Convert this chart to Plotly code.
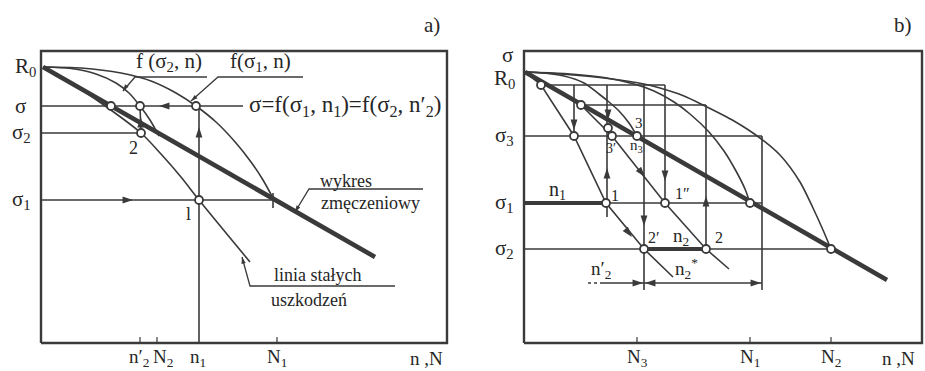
import math
import plotly.graph_objects as go

INK = "#3a3a3a"
TXT = "#262626"
FONT = "Liberation Serif"

# ---------------- a) ----------------
# stress levels and cycle counts (diagram units)
A_R0, A_SIG, A_SIG2, A_SIG1 = 276, 237, 210, 143
A_N2P, A_N2, A_N1S, A_N1 = 99, 116, 158, 233
A_W, A_H = 406, 292

# fatigue curve (wykres zmęczeniowy)
A_FAT_X = [2, 334]
A_FAT_Y = [276, 86]
# f(σ1, n)
A_F1_X = [2, 40, 80, 110, 135, 155, 175, 195, 210, 222, 233]
A_F1_Y = [276, 275, 270, 262, 250, 237, 221, 200, 181, 163, 143]
# f(σ2, n)
A_F2_X = [2, 30, 55, 75, 88, 99, 109, 118]
A_F2_Y = [276, 274.5, 269, 260, 250, 237, 223, 207]
# linia stałych uszkodzeń
A_CD_X = [2, 30, 60, 100, 120, 140, 158, 209]
A_CD_Y = [276, 260, 240, 210, 189, 166, 143, 81]
# marked points
A_PTS_X = [70, 99, 155, 100, 158]
A_PTS_Y = [237, 237, 237, 210, 143]
# arrow heads: tip x, tip y, direction x, direction y
A_ARR = [(118, 237, -1, 0), (92, 143, 1, 0), (158, 216, 0, 1),
         (99.7, 226, 0, 1)]
A_LEAD_ARR = [(82, 252, -0.7, -1), (150, 242, -1, -0.85),
              (254, 131, -0.6, -1), (201, 86, -0.25, 1)]

# ---------------- b) ----------------
B_R0, B_L1, B_L2, B_SIG3, B_SIG1, B_SIG2 = 271, 258, 238, 207, 140, 94
B_N3, B_N1, B_N2 = 113, 226, 307
B_N2P, B_2 = 120, 182
B_DIM = 60
B_W, B_H = 398, 292

B_FAT_X = [1, 363]
B_FAT_Y = [271, 63]
# f(σ3, n), f(σ1, n), f(σ2, n)
B_F3_X = [1, 20, 40, 60, 75, 85, 95, 105, 113]
B_F3_Y = [271, 270, 267, 260, 249, 241, 232, 220, 207]
B_F1_X = [1, 40, 80, 110, 130, 150, 166, 185, 200, 212, 221, 226]
B_F1_Y = [271, 269.5, 265.5, 259, 252, 241, 229, 211, 192, 172, 154, 140]
B_F2_X = [1, 36, 80, 120, 136, 160, 179, 210, 236, 256, 276, 289, 299, 307]
B_F2_Y = [271, 269, 265, 259, 255, 247, 238, 222, 205, 188, 161, 135, 113, 94]
# constant damage lines
B_CD1_X = [1, 17, 50, 82, 120, 149]
B_CD1_Y = [271, 258, 207, 140, 94, 66]
B_CD2_X = [57, 88, 141, 182, 205]
B_CD2_Y = [238, 207, 140, 94, 74]
# marked points
B_PTS_X = [17, 57, 50, 84, 88, 113, 82, 141, 226, 120, 182, 307]
B_PTS_Y = [258, 238, 207, 215, 207, 207, 140, 140, 140, 94, 94, 94]
B_ARR = [(50, 213, 0, -1), (84, 223, 0, -1), (83, 175, 0, 1),
         (120, 117, 0, -1), (141, 162, 0, -1), (182, 147, 0, 1),
         (108, 106, 38, -46), (121, 166, 53, -67),
         (119, 60, 1, 0), (121, 60, -1, 0), (237, 60, 1, 0)]

fig = go.Figure()
A = ("x", "y")
B = ("x2", "y2")


def seg(xs, ys, ax, w=1.6, shape="linear", dash="solid"):
    fig.add_trace(go.Scatter(
        x=xs, y=ys, mode="lines", xaxis=ax[0], yaxis=ax[1],
        line=dict(color=INK, width=w, shape=shape, dash=dash, smoothing=0.8),
        hoverinfo="skip", showlegend=False))


def dots(xs, ys, ax):
    fig.add_trace(go.Scatter(
        x=xs, y=ys, mode="markers", xaxis=ax[0], yaxis=ax[1],
        marker=dict(size=8, color="white", line=dict(color=INK, width=1.8)),
        hoverinfo="skip", showlegend=False))


def heads(items, ax, size=11):
    # narrow arrow symbols, tip on the point, rotated along (dx, dy)
    fig.add_trace(go.Scatter(
        x=[a[0] for a in items], y=[a[1] for a in items], mode="markers",
        xaxis=ax[0], yaxis=ax[1],
        marker=dict(symbol="arrow", size=size, color=INK,
                    angle=[math.degrees(math.atan2(a[2], a[3])) for a in items],
                    line=dict(width=0)),
        hoverinfo="skip", showlegend=False))


def label(x, y, t, ax, size=20, xanchor="center"):
    fig.add_annotation(x=x, y=y, xref=ax[0], yref=ax[1], text=t,
                       showarrow=False, xanchor=xanchor,
                       font=dict(family=FONT, size=size, color=TXT))


# ---- panel a ----
seg([0, A_W, A_W, 0, 0], [0, 0, A_H, A_H, 0], A, w=2.4)
seg([0, 202], [A_SIG, A_SIG], A)
seg([0, A_N2P + 1], [A_SIG2, A_SIG2], A)
seg([0, A_N1], [A_SIG1, A_SIG1], A)
seg([A_N1S, A_N1S], [A_SIG, 0], A)
seg([A_N2P, A_N2P + 1], [A_SIG, A_SIG2], A)
seg([A_N1 - 1, A_N1 - 1], [135, 150], A)
for xv in [A_N2P, A_N2, 236]:
    seg([xv, xv], [0, 6], A, w=1.2)
seg(A_F1_X, A_F1_Y, A, shape="spline")
seg(A_F2_X, A_F2_Y, A, shape="spline")
seg(A_CD_X, A_CD_Y, A, shape="spline")
seg(A_FAT_X, A_FAT_Y, A, w=4.6)
# leaders
seg([166, 94, 82], [266, 266, 252], A, w=1.3)
seg([262, 177, 150], [266, 266, 242], A, w=1.3)
seg([382, 268, 254], [154, 154, 131], A, w=1.3)
seg([354, 209, 201], [57, 57, 86], A, w=1.3)
dots(A_PTS_X, A_PTS_Y, A)
heads(A_ARR, A)
heads(A_LEAD_ARR, A, size=7)

label(391, 318, "a)", A, size=21)
label(-16, A_R0, "R<sub>0</sub>", A, size=21)
label(-21, A_SIG, "σ", A, size=21)
label(-20, A_SIG2, "σ<sub>2</sub>", A, size=21)
label(-20, A_SIG1, "σ<sub>1</sub>", A, size=21)
label(128, 281, "f (σ<sub>2</sub>, n)", A, size=21)
label(219, 281, "f(σ<sub>1</sub>, n)", A, size=21)
label(206, A_SIG, "σ=f(σ<sub>1</sub>, n<sub>1</sub>)=f(σ<sub>2</sub>, n′<sub>2</sub>)",
      A, size=23, xanchor="left")
label(305, 162, "wykres", A, size=18)
label(329, 140, "zmęczeniowy", A, size=18)
label(276, 68, "linia stałych", A, size=18)
label(268, 43, "uszkodzeń", A, size=18)
label(147, 129, "l", A, size=18)
label(92, 195, "2", A, size=18)
label(98, -15, "n′<sub>2</sub>", A, size=19)
label(122, -15, "N<sub>2</sub>", A, size=19)
label(157, -15, "n<sub>1</sub>", A, size=19)
label(236, -15, "N<sub>1</sub>", A, size=19)
label(385, -15, "n ,N", A, size=19)

# ---- panel b ----
seg([0, B_W, B_W, 0, 0], [0, 0, B_H, B_H, 0], B, w=2.4)
seg([50, 50], [B_L1, B_SIG3], B)
seg([83, 83], [B_L1, 126], B)
seg([B_N2P, B_N2P], [B_L1, 53], B)
seg([141, 141], [B_L1, B_SIG1], B)
seg([B_2, B_2], [B_L2, B_SIG2], B)
seg([238, 238], [B_SIG3, 53], B)
seg([17, 141], [B_L1, B_L1], B)
seg([57, B_2], [B_L2, B_L2], B)
seg([0, 238], [B_SIG3, B_SIG3], B)
seg([82, 238], [B_SIG1, B_SIG1], B)
seg([0, 82], [B_SIG1, B_SIG1], B, w=4)
seg([0, B_N2P], [B_SIG2, B_SIG2], B)
seg([B_2, B_N2], [B_SIG2, B_SIG2], B)
seg([B_N2P, B_2], [B_SIG2, B_SIG2], B, w=4)
for xv in [B_N3, B_N1, B_N2]:
    seg([xv, xv], [0, 6], B, w=1.2)
seg(B_F3_X, B_F3_Y, B, shape="spline")
seg(B_F1_X, B_F1_Y, B, shape="spline")
seg(B_F2_X, B_F2_Y, B, shape="spline")
seg(B_CD1_X, B_CD1_Y, B)
seg(B_CD2_X, B_CD2_Y, B)
seg(B_FAT_X, B_FAT_Y, B, w=4.6)
seg([64, 76], [B_DIM, B_DIM], B, w=1.4, dash="dot")
seg([76, 238], [B_DIM, B_DIM], B, w=1.4)
dots(B_PTS_X, B_PTS_Y, B)
heads(B_ARR, B)

label(379, 318, "b)", B, size=21)
label(-17, 288, "σ", B, size=21)
label(-20, 264, "R<sub>0</sub>", B, size=21)
label(-20, B_SIG3, "σ<sub>3</sub>", B, size=21)
label(-20, B_SIG1, "σ<sub>1</sub>", B, size=21)
label(-20, B_SIG2, "σ<sub>2</sub>", B, size=21)
label(33, 153, "n<sub>1</sub>", B)
label(91, 148, "1", B, size=16)
label(158, 150, "1″", B, size=16)
label(130, 106, "2′", B, size=16)
label(157, 106, "n<sub>2</sub>", B, size=19)
label(195, 106, "2", B, size=16)
label(115, 220, "3", B, size=15)
label(112, 197, "n<sub>3</sub>", B, size=15)
label(87, 195, "3′", B, size=14)
label(77, 73, "n′<sub>2</sub>", B, size=19)
label(162, 75, "n<sub>2</sub><sup>*</sup>", B, size=19)
label(113, -15, "N<sub>3</sub>", B, size=19)
label(226, -15, "N<sub>1</sub>", B, size=19)
label(307, -15, "N<sub>2</sub>", B, size=19)
label(374, -15, "n ,N", B, size=19)

axis_common = dict(showgrid=False, zeroline=False, showticklabels=False,
                   ticks="", showline=False, fixedrange=True)
fig.update_layout(
    width=925, height=371,
    margin=dict(l=0, r=0, t=0, b=0),
    paper_bgcolor="white", plot_bgcolor="rgba(0,0,0,0)",
    xaxis=dict(domain=[0, 0.5], range=[-41, 421.5], **axis_common),
    yaxis=dict(domain=[0, 1], range=[-28, 343], anchor="x", **axis_common),
    xaxis2=dict(domain=[0.5, 1], range=[-61.5, 401], anchor="y2", **axis_common),
    yaxis2=dict(domain=[0, 1], range=[-28, 343], anchor="x2", **axis_common),
    showlegend=False,
)

fig.write_html("out.html")
